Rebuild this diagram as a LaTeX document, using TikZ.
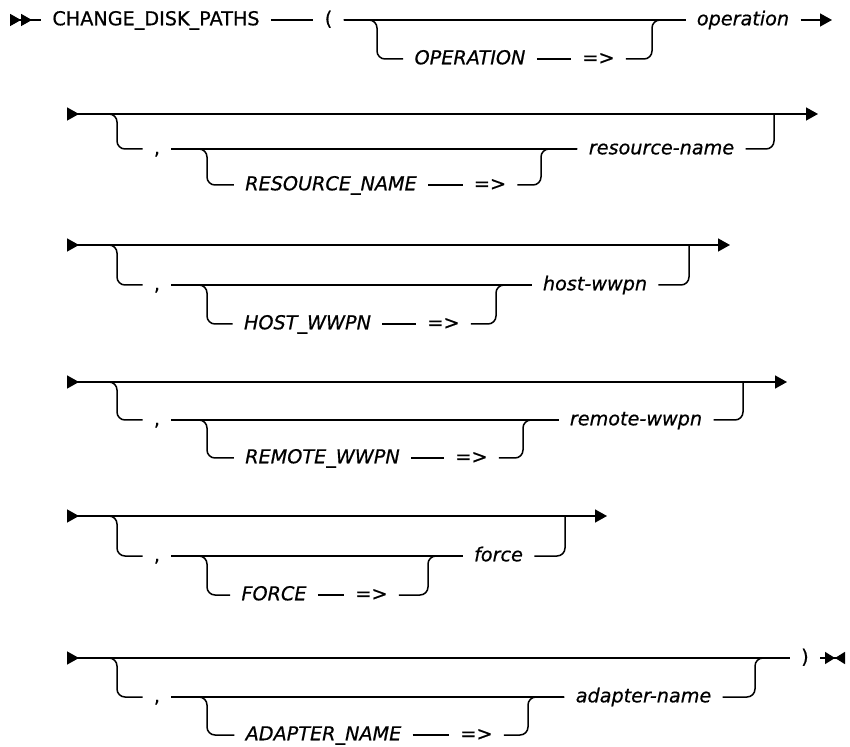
\documentclass[tikz,border=0pt]{standalone}
\usepackage{fontspec}
\setmainfont{DejaVu Sans}[FakeBold=0.6]
\usetikzlibrary{arrows.meta}

\begin{document}
\begin{tikzpicture}[
  x=0.5pt,
  y=-0.5pt,
  rail/.style={line width=0.75pt},
  branch/.style={rail, rounded corners=4pt},
  cmdin/.style={rail, {Triangle[reversed,length=5.5pt,width=6pt]Triangle[reversed,length=5.5pt,width=6pt]}-},
  rowin/.style={rail, {Triangle[reversed,length=6pt,width=6.5pt]}-},
  rowout/.style={rail, -{Triangle[length=6pt,width=6.5pt]}},
  rowpass/.style={rail, {Triangle[reversed,length=6pt,width=6.5pt]}-{Triangle[length=6pt,width=6.5pt]}},
  rowstop/.style={rail, -{Triangle[length=5pt,width=6pt]Triangle[reversed,length=5pt,width=6pt]}},
  kw/.style={inner xsep=5.5pt, inner ysep=0pt, text height=7.3pt, text depth=2pt},
  parm/.style={kw, font=\fontsize{9.6pt}{12pt}\selectfont\itshape},
  var/.style={kw, font=\fontsize{9.6pt}{12pt}\selectfont\itshape},
  every node/.style={font=\fontsize{9.6pt}{12pt}\selectfont}
]
\useasboundingbox (0,0) rectangle (850,747);

\node[kw] (cmd) at (156,20) {CHANGE\_DISK\_PATHS};
\node[kw] (lpar) at (328.5,20) {(};
\node[parm] (opkey) at (470,59) {OPERATION};
\node[kw] (opeq) at (598.5,59) {=>};
\node[var] (opval) at (743,20) {operation};
\coordinate (opin) at (10,20);
\coordinate (opout) at (832,20);
\coordinate (opdn) at (377,59);
\coordinate (opup) at (652,20);
\draw[cmdin] (opin) -- (cmd);
\draw[rail] (cmd) -- (lpar);
\draw[rail] (lpar) -- (opval);
\draw[branch] (lpar.east) -| (opdn) -- (opkey);
\draw[rail] (opkey) -- (opeq);
\draw[branch] (opeq.east) -| (opup) -- (opval.west);
\draw[rowout] (opval) -- (opout);

\node[kw] (rncomma) at (157,149) {,};
\node[parm] (rnkey) at (331,185) {RESOURCE\_NAME};
\node[kw] (rneq) at (490,185) {=>};
\node[var] (rnval) at (661.5,149) {resource-name};
\coordinate (rnin) at (67,114);
\coordinate (rnout) at (818,114);
\coordinate (rndn) at (117,149);
\coordinate (rnkdn) at (207,185);
\coordinate (rnkup) at (541,149);
\coordinate (rnup) at (774,114);
\draw[rowpass] (rnin) -- (rnout);
\draw[branch] (rnin) -| (rndn) -- (rncomma);
\draw[rail] (rncomma) -- (rnval);
\draw[branch] (rncomma.east) -| (rnkdn) -- (rnkey);
\draw[rail] (rnkey) -- (rneq);
\draw[branch] (rneq.east) -| (rnkup) -- (rnval.west);
\draw[branch] (rnval.east) -| (rnup);

\node[kw] (hwcomma) at (157,285) {,};
\node[parm] (hwkey) at (307.5,324) {HOST\_WWPN};
\node[kw] (hweq) at (443.5,324) {=>};
\node[var] (hwval) at (595,285) {host-wwpn};
\coordinate (hwin) at (67,245);
\coordinate (hwout) at (730,245);
\coordinate (hwdn) at (117,285);
\coordinate (hwkdn) at (207,324);
\coordinate (hwkup) at (496,285);
\coordinate (hwup) at (689,245);
\draw[rowpass] (hwin) -- (hwout);
\draw[branch] (hwin) -| (hwdn) -- (hwcomma);
\draw[rail] (hwcomma) -- (hwval);
\draw[branch] (hwcomma.east) -| (hwkdn) -- (hwkey);
\draw[rail] (hwkey) -- (hweq);
\draw[branch] (hweq.east) -| (hwkup) -- (hwval.west);
\draw[branch] (hwval.east) -| (hwup);

\node[kw] (rwcomma) at (157,420) {,};
\node[parm] (rwkey) at (322.5,458) {REMOTE\_WWPN};
\node[kw] (rweq) at (471.5,458) {=>};
\node[var] (rwval) at (636,420) {remote-wwpn};
\coordinate (rwin) at (67,382);
\coordinate (rwout) at (787,382);
\coordinate (rwdn) at (117,420);
\coordinate (rwkdn) at (207,458);
\coordinate (rwkup) at (523,420);
\coordinate (rwup) at (743,382);
\draw[rowpass] (rwin) -- (rwout);
\draw[branch] (rwin) -| (rwdn) -- (rwcomma);
\draw[rail] (rwcomma) -- (rwval);
\draw[branch] (rwcomma.east) -| (rwkdn) -- (rwkey);
\draw[rail] (rwkey) -- (rweq);
\draw[branch] (rweq.east) -| (rwkup) -- (rwval.west);
\draw[branch] (rwval.east) -| (rwup);

\node[kw] (fccomma) at (157,556) {,};
\node[parm] (fckey) at (274,595) {FORCE};
\node[kw] (fceq) at (371.5,595) {=>};
\node[var] (fcval) at (498.5,556) {force};
\coordinate (fcin) at (67,516);
\coordinate (fcout) at (607,516);
\coordinate (fcdn) at (117,556);
\coordinate (fckdn) at (207,595);
\coordinate (fckup) at (428,556);
\coordinate (fcup) at (565,516);
\draw[rowpass] (fcin) -- (fcout);
\draw[branch] (fcin) -| (fcdn) -- (fccomma);
\draw[rail] (fccomma) -- (fcval);
\draw[branch] (fccomma.east) -| (fckdn) -- (fckey);
\draw[rail] (fckey) -- (fceq);
\draw[branch] (fceq.east) -| (fckup) -- (fcval.west);
\draw[branch] (fcval.east) -| (fcup);

\node[kw] (adcomma) at (157,697) {,};
\node[parm] (adkey) at (323.5,735) {ADAPTER\_NAME};
\node[kw] (adeq) at (476.5,735) {=>};
\node[var] (adval) at (643.5,697) {adapter-name};
\node[kw] (rpar) at (805,658) {)};
\coordinate (adin) at (67,658);
\coordinate (adout) at (845,658);
\coordinate (addn) at (117,697);
\coordinate (adkdn) at (207,735);
\coordinate (adkup) at (528,697);
\coordinate (adup) at (755,658);
\draw[rowin] (adin) -- (rpar);
\draw[branch] (adin) -| (addn) -- (adcomma);
\draw[rail] (adcomma) -- (adval);
\draw[branch] (adcomma.east) -| (adkdn) -- (adkey);
\draw[rail] (adkey) -- (adeq);
\draw[branch] (adeq.east) -| (adkup) -- (adval.west);
\draw[branch] (adval.east) -| (adup) -- (rpar.west);
\draw[rowstop] (rpar) -- (adout);
\end{tikzpicture}
\end{document}
